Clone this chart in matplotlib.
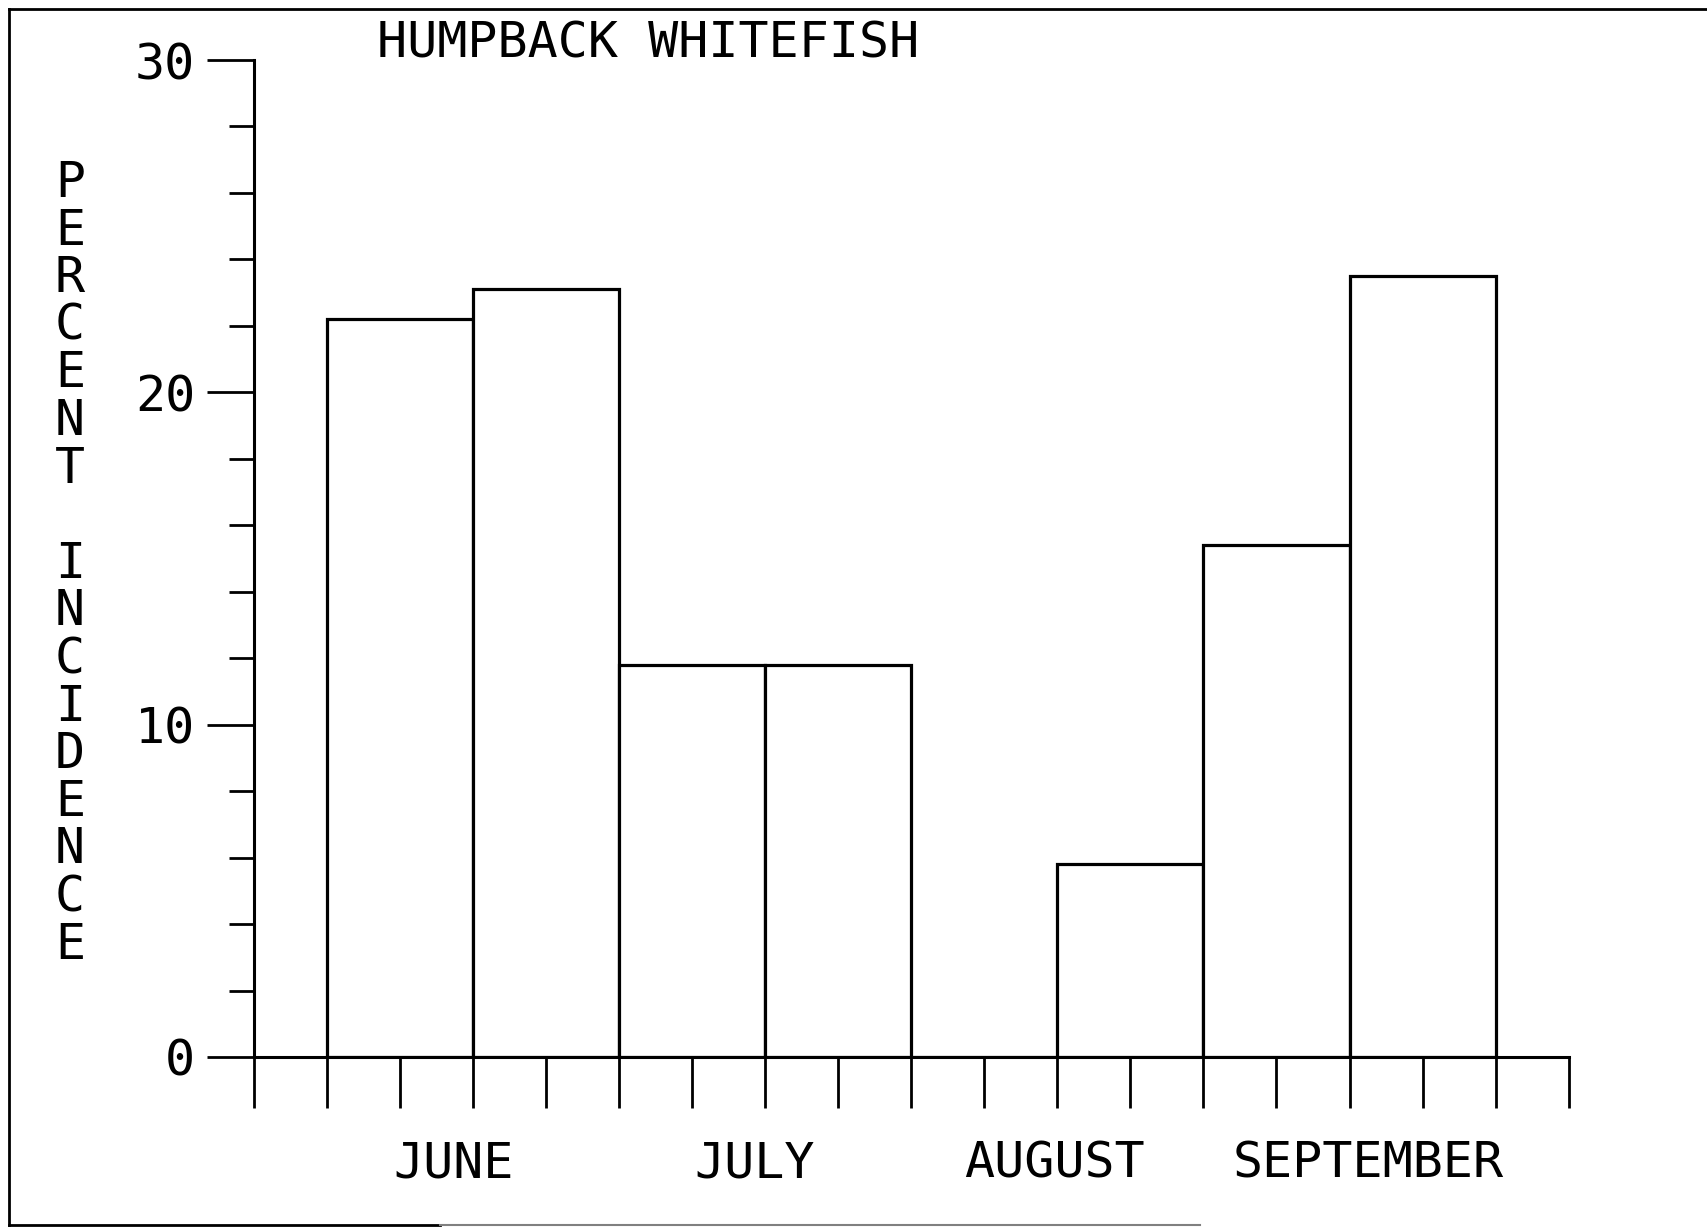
import matplotlib
matplotlib.use("Agg")
import matplotlib.pyplot as plt
from matplotlib.lines import Line2D

# data
bar_left = [1, 3, 5, 7, 9, 11, 13, 15]
percent = [22.2, 23.1, 11.8, 11.8, 0.0, 5.8, 15.4, 23.5]
months = ['JUNE', 'JULY', 'AUGUST', 'SEPTEMBER']
month_x = [2.74, 6.86, 10.96, 15.25]
y_ticks = [0, 10, 20, 30]
title = 'HUMPBACK WHITEFISH'
ylabel = 'PERCENT INCIDENCE'

W, H = 1707, 1228
fam = 'DejaVu Sans Mono'
fs = 36

fig = plt.figure(figsize=(W / 100, H / 100), dpi=100)
x0, x1 = 253.6, 1568.7
y0, y1 = 1057.0, 60.0
ax = fig.add_axes([x0 / W, 1 - y0 / H, (x1 - x0) / W, (y0 - y1) / H])

ax.bar(bar_left, percent, width=2, align='edge', facecolor='white',
       edgecolor='black', linewidth=2.3)

ax.set_xlim(0, 18)
ax.set_ylim(0, 30)
for s in ['top', 'right']:
    ax.spines[s].set_visible(False)
for s in ['left', 'bottom']:
    ax.spines[s].set_linewidth(2.2)

ax.set_xticks(range(0, 19))
ax.set_xticklabels([])
ax.tick_params(axis='x', direction='out', length=37, width=2.0)
ax.set_yticks(y_ticks)
ax.set_yticklabels([str(v) for v in y_ticks], fontfamily=fam, fontsize=fs)
ax.set_yticks(range(0, 31, 2), minor=True)
ax.tick_params(axis='y', which='major', direction='out', length=34,
               width=2.0, pad=8)
ax.tick_params(axis='y', which='minor', direction='out', length=18,
               width=2.0)

# month labels: x in data units, y in figure pixels
lab_tr = matplotlib.transforms.blended_transform_factory(ax.transData,
                                                         fig.transFigure)
for m, xm in zip(months, month_x):
    ax.text(xm, 1 - 1163 / H, m, transform=lab_tr, ha='center',
            va='center', fontfamily=fam, fontsize=fs)

fig.text(648 / W, 1 - 43 / H, title, ha='center', va='center',
         fontfamily=fam, fontsize=fs)

# stacked vertical axis label
top, step = 183.0, 47.6
for i, ch in enumerate(ylabel):
    if ch != ' ':
        fig.text(70 / W, 1 - (top + i * step) / H, ch, ha='center',
                 va='center', fontfamily=fam, fontsize=fs)

# page frame
fig.add_artist(Line2D([9 / W, 9 / W], [1 - 9 / H, 1 - 1225 / H],
                      transform=fig.transFigure, color='black', lw=2))
fig.add_artist(Line2D([9 / W, 1], [1 - 9 / H, 1 - 9 / H],
                      transform=fig.transFigure, color='black', lw=2))
fig.add_artist(Line2D([9 / W, 440 / W], [1 - 1225 / H, 1 - 1225 / H],
                      transform=fig.transFigure, color='black', lw=2))
fig.add_artist(Line2D([440 / W, 1200 / W], [1 - 1225 / H, 1 - 1225 / H],
                      transform=fig.transFigure, color='0.5', lw=1.5))

fig.savefig('out.png', dpi=100)
